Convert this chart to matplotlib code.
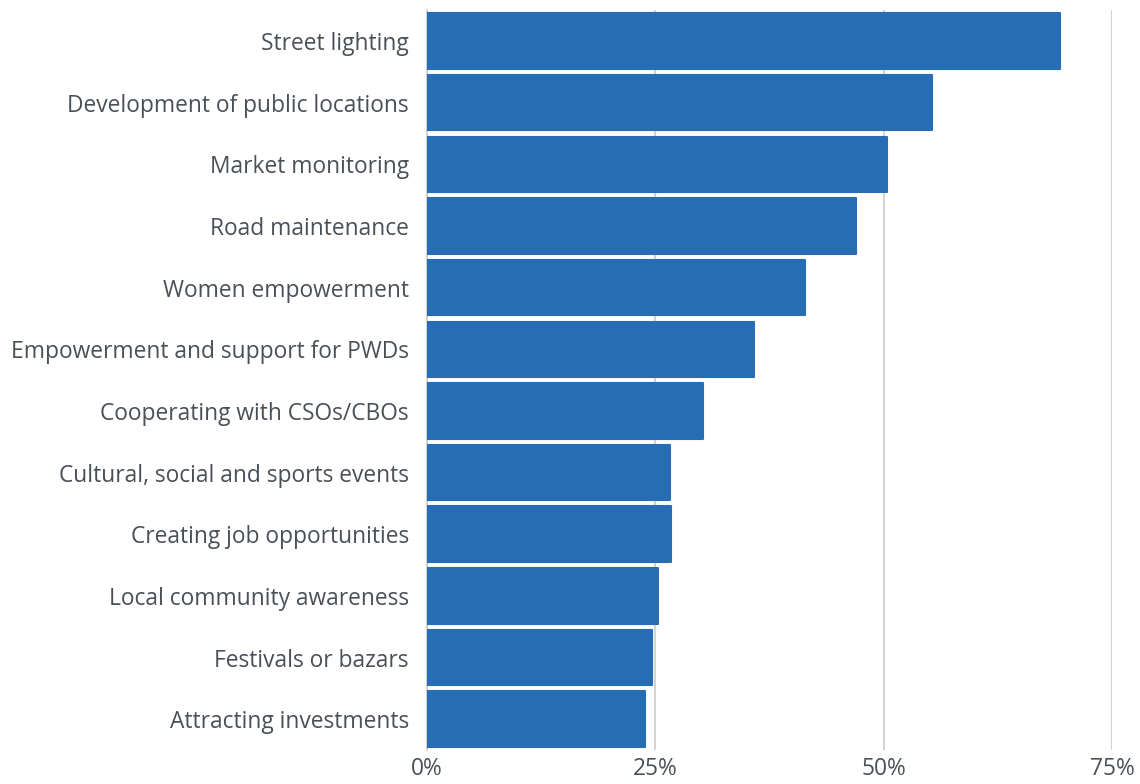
import numpy as np
import matplotlib.pyplot as plt

# categorias (de cima para baixo)
categorias = [
    "Street lighting",
    "Development of public locations",
    "Market monitoring",
    "Road maintenance",
    "Women empowerment",
    "Empowerment and support for PWDs",
    "Cooperating with CSOs/CBOs",
    "Cultural, social and sports events",
    "Creating job opportunities",
    "Local community awareness",
    "Festivals or bazars",
    "Attracting investments",
]

# valores em %
valores = [69.3, 55.3, 50.4, 47.0, 41.4, 35.8, 30.2, 26.6, 26.7, 25.3, 24.6, 23.9]

ticks = [0, 25, 50, 75]
tick_labels = ["0%", "25%", "50%", "75%"]

plt.rcParams["font.family"] = ["Open Sans", "DejaVu Sans"]

fig = plt.figure(figsize=(11.4, 7.84), dpi=100)
ax = fig.add_axes([0.3746, 0.0434, 0.6008, 0.9436])

y = np.arange(len(categorias))
ax.barh(y, valores, height=0.9, color="#266db4", edgecolor="#266db4",
        linewidth=1.5, joinstyle="round", zorder=3)

ax.set_ylim(len(categorias) - 0.5, -0.5)
ax.set_xlim(0, 75)
ax.set_yticks(y)
ax.set_yticklabels(categorias, fontsize=16.4, color="#4a5057")
ax.set_xticks(ticks)
ax.set_xticklabels(tick_labels, fontsize=16.4, color="#4a5057")
ax.tick_params(axis="both", length=0)
ax.tick_params(axis="y", pad=13)
ax.tick_params(axis="x", pad=5)

ax.grid(axis="x", color="#d4d4d4", linewidth=1.5, zorder=0)
for s in ["top", "right", "bottom"]:
    ax.spines[s].set_visible(False)
ax.spines["left"].set_color("#d4d4d4")
ax.spines["left"].set_linewidth(1.5)

fig.savefig("out.png", dpi=100)
